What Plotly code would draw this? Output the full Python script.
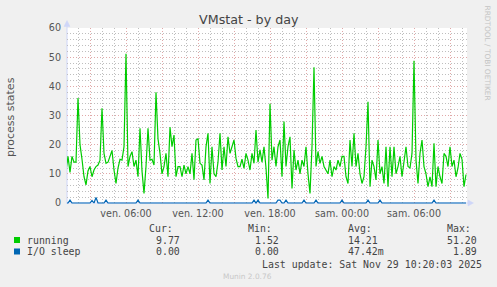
import plotly.graph_objects as go
import pandas as pd

# ---------------- data ----------------
start_time = "2025-11-28 01:00"
step = "10min"

running = [
    11, 16, 10.5, 16, 14, 14, 36, 20, 15, 9,
    6.2, 11, 12.5, 9, 11.3, 12.5, 13, 14.7, 32.5, 17,
    13.6, 14, 16, 18, 11.3, 6.7, 12, 15, 14.7, 19.3,
    51.2, 12.5, 16, 17.6, 12.5, 14.7, 9, 25.6, 11, 3.3,
    12.5, 25.6, 14.7, 15, 13, 38, 22, 17, 10, 12.5,
    17, 9, 26, 19.3, 23.3, 9, 12.5, 12.5, 9, 13,
    10, 12.5, 10, 17, 8, 21.6, 22, 13.6, 13, 7.9,
    19.3, 23.9, 6.7, 19.3, 10, 9, 14, 23.9, 11.3, 19.3,
    12.5, 22.7, 17, 19.3, 21.6, 15.3, 12.5, 12.5, 15, 11.9,
    17, 14.7, 11.3, 17, 13.6, 25, 14, 18.2, 14, 19.3,
    12, 1.52, 34, 14.7, 19.3, 12.5, 19.3, 21.6, 9, 27.9,
    12.5, 19.3, 22.7, 5, 18.2, 11.3, 14.7, 10, 14.7, 12.5,
    19.3, 10, 3.3, 19.3, 46.5, 12.5, 17.6, 13.6, 16, 12.5,
    11.3, 10, 14.7, 9, 12.5, 11.3, 14.7, 12.5, 16, 16,
    9, 6.7, 21.6, 12.5, 23.9, 12.5, 17, 10, 6.7, 9,
    19.3, 34.7, 5.6, 14.7, 12.5, 7.9, 21.6, 10, 12.5, 6.7,
    19.3, 5.6, 19.3, 9, 19.3, 10, 12.5, 16, 9, 14.7,
    19.3, 12.5, 12, 17, 48.8, 14.7, 6.7, 17, 21.6, 12.5,
    10, 5.6, 9, 5.6, 20.5, 5.6, 12.5, 9, 6.7, 17,
    16, 12.5, 19.3, 12.5, 14.7, 9, 12, 17, 15, 5.6,
    9.77,
]

io_sleep = [
    0, 0, 1, 0, 0, 0, 0, 0, 0, 0,
    0, 0, 0, 0.9, 0, 1.89, 0, 0, 0, 0,
    1, 0, 0, 0, 0, 0, 0, 0, 0, 0,
    0, 0, 0, 0, 0, 0, 1, 0, 0, 0,
    0, 0, 0, 0, 0, 0, 0, 0, 0, 0,
    0, 0, 0, 0, 0, 0, 0, 0, 0, 0,
    0, 0, 0, 0, 0, 0, 0, 0, 0, 0,
    0, 1, 0, 0, 0, 0, 0, 0, 0, 0,
    0, 0, 0, 0, 0, 0, 0, 0, 0, 0,
    0, 0, 0, 0, 1, 0, 1, 0, 0, 0,
    0, 0, 0, 0, 0, 0, 1, 1, 0, 0,
    1, 0, 0, 0, 0, 0, 0, 0, 0, 1,
    0, 0, 0, 0, 0, 1, 0, 0, 0, 0,
    0, 0, 0, 0, 0, 0, 0, 0, 1, 0,
    0, 0, 0, 0, 0, 0, 0, 0, 0, 0,
    0, 1, 0, 0, 0, 0, 0, 1, 0, 0,
    0, 0, 0, 0, 0, 0, 0, 0, 0, 0,
    0, 0, 0, 0, 0, 0, 0, 0, 0, 0,
    0, 0, 0, 0, 1, 0, 0, 0, 0, 0,
    0, 0, 0, 0, 0, 0, 0, 0, 0, 0,
    0,
]

x_range = ["2025-11-28 01:05", "2025-11-29 10:25"]
x_tick_times = ["2025-11-28 03:00", "2025-11-28 06:00", "2025-11-28 09:00",
                "2025-11-28 12:00", "2025-11-28 15:00", "2025-11-28 18:00",
                "2025-11-28 21:00", "2025-11-29 00:00", "2025-11-29 03:00",
                "2025-11-29 06:00", "2025-11-29 09:00"]
x_tick_labels = ["", "ven. 06:00", "", "ven. 12:00", "", "ven. 18:00",
                 "", "sam. 00:00", "", "sam. 06:00", ""]
y_tick_vals = [0, 10, 20, 30, 40, 50, 60]
y_tick_labels = ["0", "10", "20", "30", "40", "50", "60"]

series_names = ["running", "I/O sleep"]
series_colors = ["#00CC00", "#0066B3"]
stat_headers = ["Cur:", "Min:", "Avg:", "Max:"]
stats_running = ["9.77", "1.52", "14.21", "51.20"]
stats_io = ["0.00", "0.00", "47.42m", "1.89"]

title_text = "VMstat - by day"
y_title = "process states"
last_update = "Last update: Sat Nov 29 10:20:03 2025"
footer = "Munin 2.0.76"
side_text = "RRDTOOL / TOBI OETIKER"

# ---------------- layout geometry (pixels) ----------------
W, H = 497, 287
L, R, T, B = 67, 467, 28, 204
Y_MIN = -60 * (B - 203) / 175.0


def px(x):
    return (x - L) / (R - L)


def py(y):
    return (B - y) / (B - T)


times = pd.date_range(start_time, periods=len(running), freq=step)

fig = go.Figure()
fig.add_trace(go.Scatter(x=times, y=running, mode="lines", name=series_names[0],
                         line=dict(color=series_colors[0], width=1.2)))
fig.add_trace(go.Scatter(x=times, y=io_sleep, mode="lines", name=series_names[1],
                         line=dict(color=series_colors[1], width=1.2)))

axis_font = dict(family="DejaVu Sans", size=9.6, color="#555555")
major_grid = "#E0A8A8"
minor_grid = "#BEBEBE"
dots = "1px,2px"

fig.update_layout(
    width=W, height=H,
    margin=dict(l=L, r=W - R, t=T, b=H - B, pad=0),
    paper_bgcolor="#F0F0F0",
    plot_bgcolor="#FFFFFF",
    showlegend=False,
    xaxis=dict(
        type="date", range=x_range,
        tickmode="array", tickvals=x_tick_times, ticktext=x_tick_labels,
        showgrid=True, gridcolor=major_grid, griddash=dots, gridwidth=1,
        minor=dict(dtick=3600000, tick0="2025-11-28 00:00", showgrid=True,
                   gridcolor=minor_grid, griddash=dots, gridwidth=1),
        ticks="", tickfont=axis_font, showline=False, zeroline=False,
        ticklabelstandoff=2,
    ),
    yaxis=dict(
        range=[Y_MIN, 60],
        tickmode="array", tickvals=y_tick_vals, ticktext=y_tick_labels,
        showgrid=True, gridcolor=major_grid, griddash=dots, gridwidth=1,
        minor=dict(dtick=2, tick0=0, showgrid=True,
                   gridcolor=minor_grid, griddash=dots, gridwidth=1),
        ticks="", tickfont=axis_font, showline=False, zeroline=False,
        ticklabelstandoff=5,
    ),
)

axis_col = "#CFD6F8"
shapes = [
    # y axis line + arrow
    dict(type="line", xref="paper", yref="paper", x0=px(67), x1=px(67),
         y0=py(204), y1=py(24), line=dict(color=axis_col, width=1), layer="between"),
    dict(type="path", xref="paper", yref="paper",
         path=f"M {px(64)} {py(26.5)} L {px(70)} {py(26.5)} L {px(67)} {py(20.5)} Z",
         fillcolor=axis_col, line=dict(color=axis_col, width=0.5), layer="above"),
    # x axis line + arrow
    dict(type="line", xref="paper", yref="paper", x0=px(67), x1=px(470),
         y0=py(203), y1=py(203), line=dict(color=axis_col, width=1), layer="between"),
    dict(type="path", xref="paper", yref="paper",
         path=f"M {px(468)} {py(200)} L {px(468)} {py(206)} L {px(473.5)} {py(203)} Z",
         fillcolor=axis_col, line=dict(color=axis_col, width=0.5), layer="above"),
]
# legend colour squares
for row_y, col in zip([240, 251.5], series_colors):
    shapes.append(dict(type="rect", xref="paper", yref="paper",
                       x0=px(14), x1=px(20), y0=py(row_y + 3), y1=py(row_y - 3),
                       fillcolor=col, line=dict(width=0)))
fig.update_layout(shapes=shapes)

mono = dict(family="DejaVu Sans Mono", size=9.9, color="#444444")
ann = []


def text(x, y, s, font, xanchor="left", **kw):
    ann.append(dict(x=px(x), y=py(y), xref="paper", yref="paper", text=s,
                    showarrow=False, xanchor=xanchor, yanchor="middle",
                    font=font, borderpad=0, borderwidth=0, **kw))


text(248.7, 19, title_text, dict(family="DejaVu Sans", size=12.7, color="#444444"),
     xanchor="center")
text(11, 117, y_title, dict(family="DejaVu Sans", size=11, color="#555555"),
     xanchor="center", textangle=-90)
text(487.5, 53, side_text, dict(family="DejaVu Sans", size=7.4, color="#C4C4C4"),
     xanchor="center", textangle=90)

header_x = [149, 248, 347.7, 447.3]
for hx, h in zip(header_x, stat_headers):
    text(hx, 228.3, h, mono)

text(26.7, 240, series_names[0], mono)
text(26.7, 251.5, series_names[1], mono)

run_x = [155.7, 255, 347.7, 446.7]
io_x = [155.7, 255, 347.7, 453]
for vx, v in zip(run_x, stats_running):
    text(vx, 240, v, mono)
for vx, v in zip(io_x, stats_io):
    text(vx, 251.5, v, mono)

text(261.7, 264, last_update, mono)
text(223, 276, footer, dict(family="DejaVu Sans", size=7.4, color="#C8C8C8"))

fig.update_layout(annotations=ann)
fig.write_html("out.html")
